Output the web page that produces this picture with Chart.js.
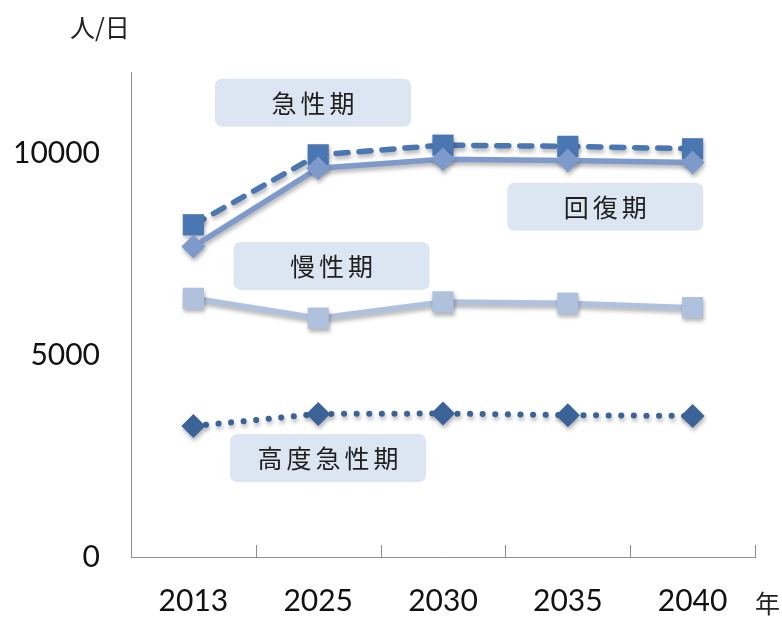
<!DOCTYPE html>
<html>
<head>
<meta charset="utf-8">
<script src="https://cdn.jsdelivr.net/npm/chart.js@4.4.1/dist/chart.umd.min.js"></script>
<style>
  html, body { margin: 0; padding: 0; background: #ffffff; }
  #wrap { width: 782px; height: 617px; position: relative; }
</style>
</head>
<body>
<div id="wrap"><canvas id="c" width="782" height="617"></canvas></div>
<script>
// ---- data ----
const years = ['2013', '2025', '2030', '2035', '2040'];
const acute = [8220, 9950, 10190, 10160, 10100];          // 急性期
const recovery = [7680, 9620, 9840, 9810, 9760];          // 回復期
const chronic = [6400, 5910, 6310, 6280, 6170];           // 慢性期
const highAcute = [3240, 3540, 3550, 3510, 3490];         // 高度急性期
const yTicks = [0, 5000, 10000];
const seriesNames = ['急性期', '回復期', '慢性期', '高度急性期'];
const yUnit = '人/日';
const xUnit = '年';

// label boxes placed in data units (category index, value)
const labelBoxes = [
  { text: seriesNames[0], xi: 0.958, yv: 11238 },
  { text: seriesNames[1], xi: 3.30, yv: 8663 },
  { text: seriesNames[2], xi: 1.107, yv: 7203 },
  { text: seriesNames[3], xi: 1.079, yv: 2450 }
];

const NUM_FONT = 'Lato, "Open Sans", sans-serif';
const CJK_FONT = '"Noto Sans CJK JP", "Noto Sans CJK SC", sans-serif';
const AXIS_COLOR = '#8c8c8c';

const decorPlugin = {
  id: 'decor',
  beforeDatasetsDraw(chart) {
    const ctx = chart.ctx;
    const xs = chart.scales.x, ys = chart.scales.y;
    ctx.save();
    labelBoxes.forEach(b => {
      const cx = xs.getPixelForValue(b.xi);
      const cy = ys.getPixelForValue(b.yv);
      const w = 196, h = 48;
      ctx.fillStyle = '#dce6f2';
      ctx.beginPath();
      ctx.roundRect(cx - w / 2, cy - h / 2, w, h, 7);
      ctx.fill();
      ctx.fillStyle = '#1e1e1e';
      ctx.font = '25px ' + CJK_FONT;
      ctx.textBaseline = 'middle';
      ctx.textAlign = 'left';
      const chars = Array.from(b.text);
      const adv = 29;
      const total = chars.length * 25 + (chars.length - 1) * 4;
      let x = cx - total / 2;
      chars.forEach(ch => { ctx.fillText(ch, x, cy + 1); x += adv; });
    });
    ctx.strokeStyle = AXIS_COLOR;
    ctx.lineWidth = 1;
    const bottom = chart.chartArea.bottom;
    for (let i = 0; i <= years.length; i++) {
      const px = Math.round(xs.getPixelForValue(i - 0.5)) + 0.5;
      ctx.beginPath();
      ctx.moveTo(px, bottom);
      ctx.lineTo(px, bottom - 12);
      ctx.stroke();
    }
    ctx.restore();
    ctx.save();
    ctx.shadowColor = 'rgba(0,0,0,0.30)';
    ctx.shadowBlur = 4;
    ctx.shadowOffsetX = 1;
    ctx.shadowOffsetY = 3;
  },
  afterDatasetsDraw(chart) {
    chart.ctx.restore();
  },
  afterDraw(chart) {
    const ctx = chart.ctx;
    ctx.save();
    ctx.fillStyle = '#222';
    ctx.font = '25px ' + CJK_FONT;
    ctx.textBaseline = 'middle';
    ctx.textAlign = 'left';
    ctx.fillText(yUnit, 70, 27);
    ctx.fillText(xUnit, 755, 603);
    ctx.restore();
  }
};

new Chart(document.getElementById('c'), {
  type: 'line',
  data: {
    labels: years,
    datasets: [
      {
        label: seriesNames[1], data: recovery,
        borderColor: '#7e9acb', backgroundColor: '#7e9acb',
        borderWidth: 5.5, pointStyle: 'rectRot', pointRadius: 12, pointHoverRadius: 12,
        pointBorderWidth: 0, tension: 0
      },
      {
        label: seriesNames[0], data: acute,
        borderColor: '#4a76b1', backgroundColor: '#4a76b1',
        borderWidth: 5.5, borderDash: [12, 11], borderCapStyle: 'round',
        pointStyle: 'rect', pointRadius: 15, pointHoverRadius: 15,
        pointBorderWidth: 0, tension: 0
      },
      {
        label: seriesNames[2], data: chronic,
        borderColor: '#b0c1de', backgroundColor: '#b0c1de',
        borderWidth: 5.5, pointStyle: 'rect', pointRadius: 15, pointHoverRadius: 15,
        pointBorderWidth: 0, tension: 0
      },
      {
        label: seriesNames[3], data: highAcute,
        borderColor: '#3b6397', backgroundColor: '#3b6397',
        borderWidth: 6, borderDash: [0.1, 12.5], borderCapStyle: 'round',
        pointStyle: 'rectRot', pointRadius: 12, pointHoverRadius: 12,
        pointBorderWidth: 0, tension: 0
      }
    ]
  },
  options: {
    responsive: false,
    animation: false,
    events: [],
    layout: { padding: { top: 72, right: 27, left: 0, bottom: 0 } },
    plugins: { legend: { display: false }, tooltip: { enabled: false }, title: { display: false } },
    scales: {
      x: {
        type: 'category',
        offset: true,
        grid: { display: false, drawTicks: false },
        border: { display: true, color: AXIS_COLOR, width: 1 },
        ticks: { color: '#111', font: { family: NUM_FONT, size: 30 }, padding: 26, maxRotation: 0 },
        afterFit(s) { s.height = 60; }
      },
      y: {
        min: 0, max: 12000,
        grid: { display: false, drawTicks: false },
        border: { display: true, color: AXIS_COLOR, width: 1 },
        afterBuildTicks(s) { s.ticks = yTicks.map(v => ({ value: v })); },
        ticks: { color: '#111', font: { family: NUM_FONT, size: 30 }, padding: 31,
                 callback: v => String(v) },
        afterFit(s) { s.width = 131; }
      }
    }
  },
  plugins: [decorPlugin]
});
</script>
</body>
</html>
